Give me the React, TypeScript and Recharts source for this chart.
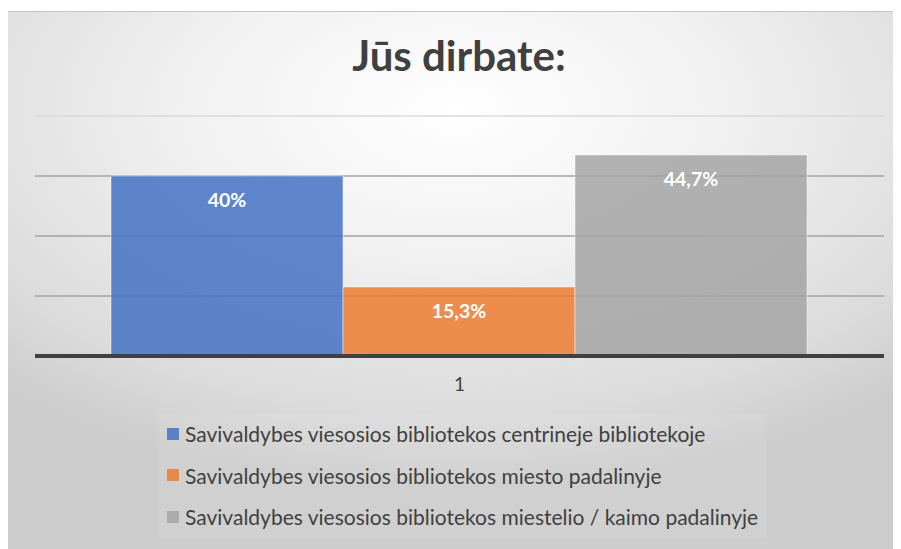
import React from 'react';
import { BarChart, Bar, XAxis, YAxis, CartesianGrid, ReferenceLine, LabelList, Legend } from 'recharts';

const categories = ['1'];
const seriesNames = [
  'Savivaldybes viesosios bibliotekos centrineje bibliotekoje',
  'Savivaldybes viesosios bibliotekos miesto padalinyje',
  'Savivaldybes viesosios bibliotekos miestelio / kaimo padalinyje',
];
const seriesKeys = ['central', 'city', 'rural'];
const seriesColors = ['#4472C4', '#ED7D31', '#A5A5A5'];
const counts = [60, 23, 67];
const percentLabels = ['40%', '15,3%', '44,7%'];
const yTicks = [0, 20, 40, 60, 80];

const FONT = 'Lato, "Open Sans", sans-serif';

const data = categories.map((name) => {
  const row: Record<string, string | number> = { name };
  seriesKeys.forEach((key, i) => {
    row[key] = counts[i];
    row[key + 'Label'] = percentLabels[i];
  });
  return row;
});

// keep the legend in series order (recharts sorts by name otherwise)
function LegendList() {
  return (
    <div
      style={{
        fontFamily: FONT,
        fontSize: 21,
        color: '#404040',
        background: 'rgba(255,255,255,0.08)',
        padding: '0 0 0 8px',
        margin: '-2px 0 0 -8px',
      }}
    >
      {seriesNames.map((name, i) => (
        <div key={name} style={{ display: 'flex', alignItems: 'center', height: 41.5, whiteSpace: 'nowrap' }}>
          <span style={{ width: 12, height: 12, background: seriesColors[i], opacity: 0.85, marginRight: 6, flex: 'none' }} />
          <span>{name}</span>
        </div>
      ))}
    </div>
  );
}

export default function App() {
  return (
    <div style={{ position: 'relative', left: -8, top: -8, width: 901, height: 549, overflow: 'hidden', background: '#ffffff' }}>
      <div
        style={{
          position: 'absolute',
          left: 7,
          top: 11,
          width: 894,
          height: 538,
          borderTop: '1px solid #c4c4c4',
          borderLeft: '1px solid #c4c4c4',
          background: 'radial-gradient(ellipse 75% 70% at 50% 18%, #ffffff 0%, #f1f1f1 40%, #dcdcdc 80%, #cdcdcd 100%)',
        }}
      >
        <div
          style={{
            position: 'absolute',
            top: 18,
            left: 0,
            width: 902,
            textAlign: 'center',
            fontFamily: FONT,
            fontWeight: 700,
            fontSize: 42,
            lineHeight: 1.2,
            color: '#404040',
          }}
        >
          Jūs dirbate:
        </div>
        <BarChart
          width={894}
          height={538}
          data={data}
          margin={{ top: 104, right: 18, left: 27, bottom: 164 }}
          barCategoryGap={76}
          barGap={0}
        >
          <CartesianGrid vertical={false} horizontalValues={[20, 40, 60]} stroke="#a3a3a3" strokeWidth={1.5} />
          <ReferenceLine y={80} stroke="#dadada" strokeWidth={1.5} />
          <YAxis hide domain={[0, 80]} ticks={yTicks} />
          <XAxis
            dataKey="name"
            tickLine={false}
            tickSize={6}
            tickMargin={16}
            axisLine={{ stroke: '#404040', strokeWidth: 4 }}
            tick={{ fontSize: 19, fill: '#404040', fontFamily: FONT }}
          />
          <Legend
            layout="horizontal"
            verticalAlign="middle"
            align="center"
            content={<LegendList />}
            wrapperStyle={{ top: 403, left: 159, width: 600, height: 130 }}
          />
          {seriesKeys.map((key, i) => (
            <Bar
              key={key}
              dataKey={key}
              name={seriesNames[i]}
              fill={seriesColors[i]}
              fillOpacity={0.85}
              stroke="#ffffff"
              strokeOpacity={0.45}
              isAnimationActive={false}
            >
              <LabelList
                dataKey={key + 'Label'}
                position="insideTop"
                offset={17}
                fill="#ffffff"
                style={{ fontSize: 19.5, fontWeight: 700, fontFamily: FONT }}
              />
            </Bar>
          ))}
        </BarChart>
      </div>
    </div>
  );
}
